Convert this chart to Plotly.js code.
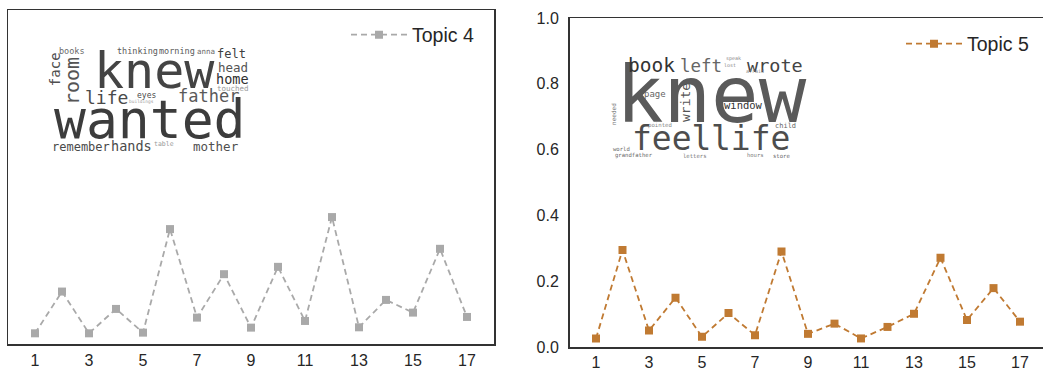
<!DOCTYPE html>
<html>
<head>
<meta charset="utf-8">
<script src="https://cdn.plot.ly/plotly-3.0.1.min.js"></script>
<style>
html,body{margin:0;padding:0;background:#fff;}
#chart{width:1043px;height:369px;}
</style>
</head>
<body>
<div id="chart"></div>
<script>
// ---------- data ----------
const docs = [1, 2, 3, 4, 5, 6, 7, 8, 9, 10, 11, 12, 13, 14, 15, 16, 17];
const topic4 = [0.032, 0.157, 0.032, 0.105, 0.034, 0.344, 0.079, 0.209, 0.049, 0.231, 0.069, 0.380, 0.050, 0.132, 0.094, 0.285, 0.081];
const topic5 = [0.026, 0.295, 0.050, 0.150, 0.031, 0.103, 0.036, 0.290, 0.040, 0.071, 0.026, 0.061, 0.101, 0.271, 0.082, 0.179, 0.077];
const xTickVals = [1, 3, 5, 7, 9, 11, 13, 15, 17];
const yTickVals = [0, 0.2, 0.4, 0.6, 0.8, 1.0];
const seriesNames = ['Topic 4', 'Topic 5'];

// word cloud words (text content)
const cloud4Words = ['wanted', 'knew', 'life', 'father', 'home', 'head', 'felt', 'touched', 'remember', 'hands', 'mother', 'table', 'eyes', 'buildings', 'books', 'thinking', 'morning', 'anna', 'face', 'room'];
const cloud5Words = ['knew', 'book', 'left', 'wrote', 'speak', 'lost', 'afraid', 'page', 'write', 'window', 'needed', 'pointed', 'child', 'feel', 'life', 'world', 'grandfather', 'letters', 'hours', 'store'];

// ---------- word cloud placement (pixels: x, baseline-or-center y, size, angle, colour) ----------
const cloud4Place = [
  [149.5, 138, 53, 0, '#3c3c3c'],
  [154.5, 88, 50, 0, '#444444'],
  [106, 104, 18, 0, '#4a4a4a'],
  [208, 102, 17, 0, '#5a5a5a'],
  [232.5, 84, 13.5, 0, '#2e2e2e'],
  [232.5, 72, 12.5, 0, '#555555'],
  [231.5, 58, 12, 0, '#404040'],
  [232.5, 91, 7.5, 0, '#9a9a9a'],
  [80.5, 151, 12, 0, '#4a4a4a'],
  [131, 151, 13.5, 0, '#4a4a4a'],
  [215.5, 151, 12.5, 0, '#4f4f4f'],
  [164, 146, 6.5, 0, '#9a9a9a'],
  [146, 98, 8, 0, '#4a4a4a'],
  [141.5, 103, 4.5, 0, '#a0a0a0'],
  [71.5, 54, 8.5, 0, '#6a6a6a'],
  [137, 54, 8.5, 0, '#5a5a5a'],
  [177, 54, 8.5, 0, '#5a5a5a'],
  [206, 54, 7.5, 0, '#6a6a6a'],
  [60, 69, 14, -90, '#4f4f4f'],
  [79, 81, 20, -90, '#555555']
];
const cloud5Place = [
  [711, 122, 79, 0, '#5a5a5a'],
  [651.5, 72, 19.5, 0, '#333333'],
  [701, 72, 17.5, 0, '#666666'],
  [775, 72, 18.5, 0, '#444444'],
  [733, 60, 5, 0, '#888888'],
  [730, 67, 5, 0, '#888888'],
  [755, 73, 5, 0, '#888888'],
  [655, 97, 9, 0, '#666666'],
  [690, 102.5, 13, -90, '#555555'],
  [743.5, 109, 10.5, 0, '#333333'],
  [615, 114, 6, -90, '#777777'],
  [660, 127, 5.7, 0, '#888888'],
  [785, 128, 7, 0, '#666666'],
  [671.5, 150, 33, 0, '#4d4d4d'],
  [750.5, 150, 33, 0, '#4d4d4d'],
  [621.5, 151, 5.6, 0, '#666666'],
  [633.5, 157, 5.6, 0, '#666666'],
  [695, 158, 5.6, 0, '#777777'],
  [755, 157, 5.5, 0, '#777777'],
  [781.5, 158, 5.6, 0, '#666666']
];

const W = 1043, H = 369;
function cloudAnnotations(words, place) {
  return words.map(function (w, i) {
    const p = place[i];
    const size = p[2], ang = p[3];
    let cx, cy;
    if (ang === 0) { cx = p[0]; cy = p[1] - 0.346 * size; }
    else { cx = p[0] - 0.346 * size; cy = p[1]; }
    return {
      text: w, showarrow: false, xref: 'paper', yref: 'paper',
      x: cx / W, y: 1 - cy / H, xanchor: 'center', yanchor: 'middle',
      textangle: ang, borderpad: 0, borderwidth: 0,
      font: {family: 'DejaVu Sans Mono, monospace', size: size, color: p[4]}
    };
  });
}

const grey = '#a9a9a9';
const brown = '#c07a32';
const axisColor = '#333333';
const tickFont = {family: 'Liberation Sans, Arial, sans-serif', size: 16, color: '#262626'};

const traces = [
  {
    x: docs, y: topic4, xaxis: 'x', yaxis: 'y', name: seriesNames[0],
    type: 'scatter', mode: 'lines+markers', legend: 'legend',
    line: {color: grey, width: 1.8, dash: '6px,4px'},
    marker: {symbol: 'square', size: 8, color: grey}
  },
  {
    x: docs, y: topic5, xaxis: 'x2', yaxis: 'y2', name: seriesNames[1],
    type: 'scatter', mode: 'lines+markers', legend: 'legend2',
    line: {color: brown, width: 1.8, dash: '6px,4px'},
    marker: {symbol: 'square', size: 8, color: brown}
  }
];

const baseX = {
  showgrid: false, zeroline: false, showline: true, linecolor: axisColor, linewidth: 1.5,
  tickmode: 'array', tickvals: xTickVals, ticks: '', tickfont: tickFont, ticklabelstandoff: 1,
  fixedrange: true
};

const legendFont = {family: 'Liberation Sans, Arial, sans-serif', size: 19.5, color: '#262626'};

const layout = {
  width: W, height: H,
  margin: {l: 0, r: 0, t: 0, b: 0},
  paper_bgcolor: '#ffffff', plot_bgcolor: '#ffffff',
  font: {family: 'Liberation Sans, Arial, sans-serif', color: '#262626'},
  showlegend: true,
  xaxis: Object.assign({}, baseX, {domain: [8 / W, 494 / W], range: [0, 18], anchor: 'y', mirror: true}),
  yaxis: {
    domain: [1 - 344 / H, 1 - 10 / H], range: [0, 1], anchor: 'x',
    showgrid: false, zeroline: false, showline: true, mirror: true,
    linecolor: axisColor, linewidth: 1.5, showticklabels: false, ticks: '', fixedrange: true
  },
  xaxis2: Object.assign({}, baseX, {domain: [569.5 / W, 1], range: [0, (W - 569.5) / 26.5], anchor: 'y2', mirror: true, ticklabelstandoff: 0}),
  yaxis2: {
    domain: [1 - 347 / H, 1 - 18 / H], range: [0, 1], anchor: 'x2',
    showgrid: false, zeroline: false, showline: true, mirror: false,
    linecolor: axisColor, linewidth: 1.5, tickmode: 'array', tickvals: yTickVals,
    tickformat: '.1f', ticks: '', tickfont: tickFont, ticklabelstandoff: 6, fixedrange: true
  },
  legend: {
    x: 346 / W, y: 1 - 35 / H, xanchor: 'left', yanchor: 'middle',
    bgcolor: 'rgba(0,0,0,0)', borderwidth: 0, itemwidth: 56,
    font: legendFont
  },
  legend2: {
    x: 901 / W, y: 1 - 44 / H, xanchor: 'left', yanchor: 'middle',
    bgcolor: 'rgba(0,0,0,0)', borderwidth: 0, itemwidth: 56,
    font: legendFont
  },
  annotations: cloudAnnotations(cloud4Words, cloud4Place).concat(cloudAnnotations(cloud5Words, cloud5Place))
};

Plotly.newPlot('chart', traces, layout, {staticPlot: true, displayModeBar: false});
</script>
</body>
</html>
